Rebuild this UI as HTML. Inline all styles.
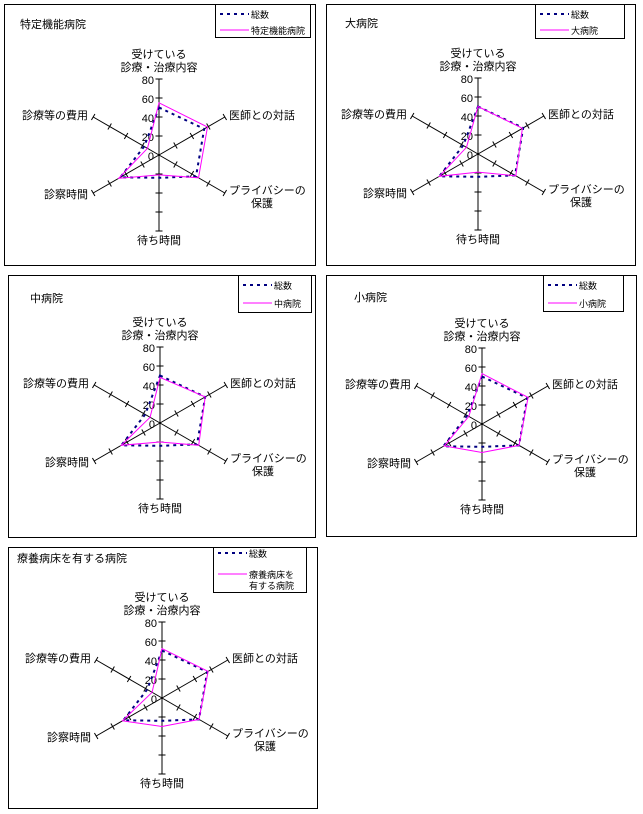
<!DOCTYPE html>
<html><head><meta charset="utf-8">
<style>
html,body{margin:0;padding:0;background:#fff;}
svg{display:block;}
text{font-family:"Liberation Sans","Noto Sans CJK JP",sans-serif;fill:#000;}
</style></head>
<body>
<svg id="s" width="643" height="814" viewBox="0 0 643 814" xmlns="http://www.w3.org/2000/svg"></svg>
<script>
var s=document.getElementById('s');var h='';
var K=0.95;
var ang=[-90,-30,30,90,150,210];
function pt(cx,cy,i,v){var a=ang[i]*Math.PI/180;return [cx+Math.cos(a)*v*K,cy+Math.sin(a)*v*K];}
function poly(cx,cy,vals,st){var p=vals.map(function(v,i){var q=pt(cx,cy,i,v);return q[0].toFixed(1)+','+q[1].toFixed(1);}).join(' ');h+='<polygon points="'+p+'" fill="none" '+st+'/>';}
var DASH='stroke="#000080" stroke-width="2" stroke-dasharray="3,4"';
var PINK='stroke="#ff00ff" stroke-width="1"';
function panel(o){
 h+='<rect x="'+o.box[0]+'.5" y="'+o.box[1]+'.5" width="'+(o.box[2]-o.box[0])+'" height="'+(o.box[3]-o.box[1])+'" fill="#fff" stroke="#000"/>';
 h+='<text x="'+o.title[0]+'" y="'+(o.title[1]+4)+'" font-size="11">'+o.title[2]+'</text>';
 var L=o.leg;
 h+='<rect x="'+L[0]+'.5" y="'+L[1]+'.5" width="'+(L[2]-L[0])+'" height="'+(L[3]-L[1])+'" fill="#fff" stroke="#000"/>';
 h+='<line x1="'+(L[0]+5)+'" y1="'+L[4]+'" x2="'+(L[0]+34)+'" y2="'+L[4]+'" '+DASH+'/>';
 h+='<text x="'+(L[0]+36)+'" y="'+(L[4]+4)+'" font-size="9">総数</text>';
 h+='<line x1="'+(L[0]+5)+'" y1="'+L[5]+'" x2="'+(L[0]+34)+'" y2="'+L[5]+'" '+PINK+'/>';
 for(var j=0;j<o.name.length;j++)h+='<text x="'+(L[0]+36)+'" y="'+(L[5]+4+j*11)+'" font-size="9">'+o.name[j]+'</text>';
 var cx=o.c[0],cy=o.c[1];
 for(var i=0;i<6;i++){var e=pt(cx,cy,i,80);h+='<line x1="'+cx+'" y1="'+cy+'" x2="'+e[0]+'" y2="'+e[1]+'" stroke="#000" stroke-width="1"/>';
  var a=ang[i]*Math.PI/180,px=-Math.sin(a),py=Math.cos(a);
  for(var t=20;t<=80;t+=20){var q=pt(cx,cy,i,t);h+='<line x1="'+(q[0]-px*3.5)+'" y1="'+(q[1]-py*3.5)+'" x2="'+(q[0]+px*3.5)+'" y2="'+(q[1]+py*3.5)+'" stroke="#000"/>';}}
 for(var t=0;t<=80;t+=20){h+='<text x="'+(cx-5)+'" y="'+(cy-t*K+5)+'" font-size="11" text-anchor="end">'+t+'</text>';}
 poly(cx,cy,o.tot,DASH);poly(cx,cy,o.v,PINK);
 var f='font-size="11"';
 h+='<text x="'+cx+'" y="'+(cy-97)+'" '+f+' text-anchor="middle">受けている</text>';
 h+='<text x="'+cx+'" y="'+(cy-84)+'" '+f+' text-anchor="middle">診療・治療内容</text>';
 h+='<text x="'+(cx+70)+'" y="'+(cy-36)+'" '+f+'>医師との対話</text>';
 h+='<text x="'+(cx+70)+'" y="'+(cy+39)+'" '+f+'>プライバシーの</text>';
 h+='<text x="'+(cx+103)+'" y="'+(cy+52)+'" '+f+' text-anchor="middle">保護</text>';
 h+='<text x="'+cx+'" y="'+(cy+89)+'" '+f+' text-anchor="middle">待ち時間</text>';
 h+='<text x="'+(cx-71)+'" y="'+(cy+43)+'" '+f+' text-anchor="end">診察時間</text>';
 h+='<text x="'+(cx-71)+'" y="'+(cy-36)+'" '+f+' text-anchor="end">診療等の費用</text>';
}
var TOT=[50,55,45,24,47,18];
panel({box:[4,4,315,265],title:[20,24,'特定機能病院'],leg:[215,4,310,37,14,30],name:['特定機能病院'],c:[159,155],tot:TOT,v:[55,59,48,21,49,14]});
panel({box:[326,4,635,265],title:[345,23,'大病院'],leg:[535,4,624,38,14,30],name:['大病院'],c:[478,154],tot:TOT,v:[50,54,46,19,47,14]});
panel({box:[8,275,315,537],title:[30,298,'中病院'],leg:[238,275,311,312,285,303],name:['中病院'],c:[160,423],tot:TOT,v:[48,55,47,20,47,12]});
panel({box:[326,275,636,536],title:[354,297,'小病院'],leg:[543,275,623,311,285,303],name:['小病院'],c:[482,424],tot:TOT,v:[53,56,45,30,46,16]});
panel({box:[8,547,317,808],title:[17,558,'療養病床を有する病院'],leg:[213,547,306,592,553,574],name:['療養病床を','有する病院'],c:[162,698],tot:TOT,v:[52,56,45,30,48,12]});
s.innerHTML=h;
</script>
</body></html>
